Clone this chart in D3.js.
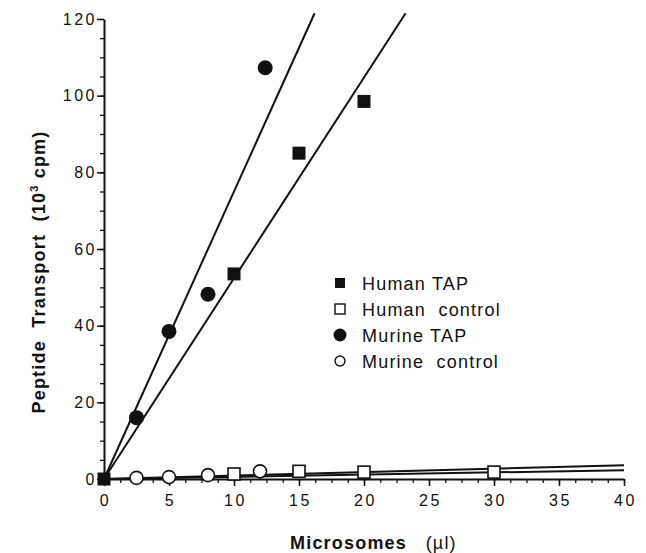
<!DOCTYPE html>
<html>
<head>
<meta charset="utf-8">
<script src="https://cdn.jsdelivr.net/npm/d3@7"></script>
<style>
  body { margin: 0; background: #fff; }
  svg text { font-family: "Liberation Sans", Arial, sans-serif; fill: #111; }
</style>
</head>
<body>
<div id="chart"></div>
<script>
// data
var humanTAP = [[0, 0], [10, 53.5], [15, 85], [20, 98.5]];
var murineTAP = [[2.5, 16], [5, 38.5], [8, 48.2], [12.4, 107.3]];
var humanControl = [[10, 1.3], [15, 2], [20, 1.8], [30, 1.8]];
var murineControl = [[2.5, 0.3], [5, 0.5], [8, 1], [12, 2]];

// fitted lines (start, end)
var murineFit = [[0, 0], [16.2, 121.5]];
var humanFit = [[0, 0], [23.2, 121.5]];
var murineCtrlFit = [[0, 0], [40, 3.6]];
var humanCtrlFit = [[0, 0], [40, 2.3]];

var xTicks = [0, 5, 10, 15, 20, 25, 30, 35, 40];
var yTicks = [0, 20, 40, 60, 80, 100, 120];

var legendItems = ["Human TAP", "Human  control", "Murine TAP", "Murine  control"];

var W = 646, H = 553;
var margin = { top: 19, right: 22, bottom: 74, left: 104 };
var width = W - margin.left - margin.right;
var height = H - margin.top - margin.bottom;

var svg = d3.select("#chart").append("svg")
  .attr("width", W)
  .attr("height", H);

var g = svg.append("g")
  .attr("transform", `translate(${margin.left}, ${margin.top})`);

var x = d3.scaleLinear().domain([0, 40]).range([0, width]);
var y = d3.scaleLinear().domain([0, 120]).range([height, 0]);

// minor ticks
var xMinor = d3.range(0, 40.01, 1.25);
var yMinor = d3.range(0, 120.01, 5);

g.append("g")
  .attr("transform", `translate(0, ${height})`)
  .call(d3.axisBottom(x).tickValues(xMinor).tickSize(4).tickFormat(""))
  .call(a => a.select(".domain").remove())
  .selectAll("line").attr("stroke", "#111").attr("stroke-width", 1.3);

g.append("g")
  .call(d3.axisLeft(y).tickValues(yMinor).tickSize(4).tickFormat(""))
  .call(a => a.select(".domain").remove())
  .selectAll("line").attr("stroke", "#111").attr("stroke-width", 1.3);

var xAxis = g.append("g")
  .attr("transform", `translate(0, ${height})`)
  .call(d3.axisBottom(x).tickValues(xTicks).tickSize(7).tickPadding(9).tickSizeOuter(0));
xAxis.select(".domain").attr("stroke", "#111").attr("stroke-width", 2);
xAxis.selectAll(".tick line").attr("stroke", "#111").attr("stroke-width", 1.5);
xAxis.selectAll("text")
  .attr("font-size", 16).attr("letter-spacing", "2.5px").attr("fill", "#111")
  .attr("dx", "1px")
  .style("font-family", "'Liberation Sans', Arial, sans-serif");

var yAxis = g.append("g")
  .call(d3.axisLeft(y).tickValues(yTicks).tickSize(7).tickPadding(0).tickSizeOuter(0));
yAxis.select(".domain").attr("stroke", "#111").attr("stroke-width", 2);
yAxis.selectAll(".tick line").attr("stroke", "#111").attr("stroke-width", 1.5);
yAxis.selectAll("text")
  .attr("font-size", 16).attr("letter-spacing", "2.5px").attr("fill", "#111")
  .style("font-family", "'Liberation Sans', Arial, sans-serif");

// fit lines
var line = d3.line().x(d => x(d[0])).y(d => y(d[1]));
[murineFit, humanFit, murineCtrlFit, humanCtrlFit].forEach(function(f) {
  g.append("path")
    .attr("d", line(f))
    .attr("fill", "none")
    .attr("stroke", "#111")
    .attr("stroke-width", 2);
});

// markers
function squares(data, filled, size) {
  g.selectAll(null).data(data).enter().append("rect")
    .attr("x", d => x(d[0]) - size / 2)
    .attr("y", d => y(d[1]) - size / 2)
    .attr("width", size).attr("height", size)
    .attr("fill", filled ? "#111" : "#fff")
    .attr("stroke", "#111").attr("stroke-width", filled ? 0 : 1.6);
}
function circles(data, filled, r) {
  g.selectAll(null).data(data).enter().append("circle")
    .attr("cx", d => x(d[0]))
    .attr("cy", d => y(d[1]))
    .attr("r", r)
    .attr("fill", filled ? "#111" : "#fff")
    .attr("stroke", "#111").attr("stroke-width", filled ? 0 : 1.6);
}
squares(humanControl, false, 12);
circles(murineControl, false, 6.5);
squares(humanTAP, true, 13);
circles(murineTAP, true, 7.5);

// legend
var legend = svg.append("g").attr("transform", "translate(340, 283)");
legendItems.forEach(function(name, i) {
  var row = legend.append("g").attr("transform", `translate(0, ${i * 26})`);
  if (i === 0 || i === 1) {
    row.append("rect").attr("x", -5).attr("y", -5).attr("width", 10).attr("height", 10)
      .attr("fill", i === 0 ? "#111" : "#fff").attr("stroke", "#111")
      .attr("stroke-width", i === 0 ? 0 : 1.4);
  } else {
    row.append("circle").attr("r", i === 2 ? 6.5 : 5)
      .attr("fill", i === 2 ? "#111" : "#fff").attr("stroke", "#111")
      .attr("stroke-width", i === 2 ? 0 : 1.4);
  }
  row.append("text")
    .attr("x", 22).attr("y", 6.5)
    .attr("font-size", 18)
    .attr("letter-spacing", "1.2px")
    .attr("xml:space", "preserve")
    .style("white-space", "pre")
    .text(name);
});

// axis titles
svg.append("text")
  .attr("x", 290).attr("y", 549)
  .attr("font-size", 18).attr("font-weight", "bold")
  .attr("letter-spacing", "1.2px")
  .html("Microsomes&#160;&#160;&#160;<tspan font-weight='normal'>(µl)</tspan>");

svg.append("text")
  .attr("transform", "translate(45, 272) rotate(-90)")
  .attr("text-anchor", "middle")
  .attr("font-size", 18).attr("font-weight", "bold")
  .attr("letter-spacing", "1.2px")
  .html("Peptide&#160;&#160;Transport&#160;&#160;(10<tspan font-size='11' dy='-7'>3</tspan><tspan dy='7'>&#160;cpm)</tspan>");
</script>
</body>
</html>
